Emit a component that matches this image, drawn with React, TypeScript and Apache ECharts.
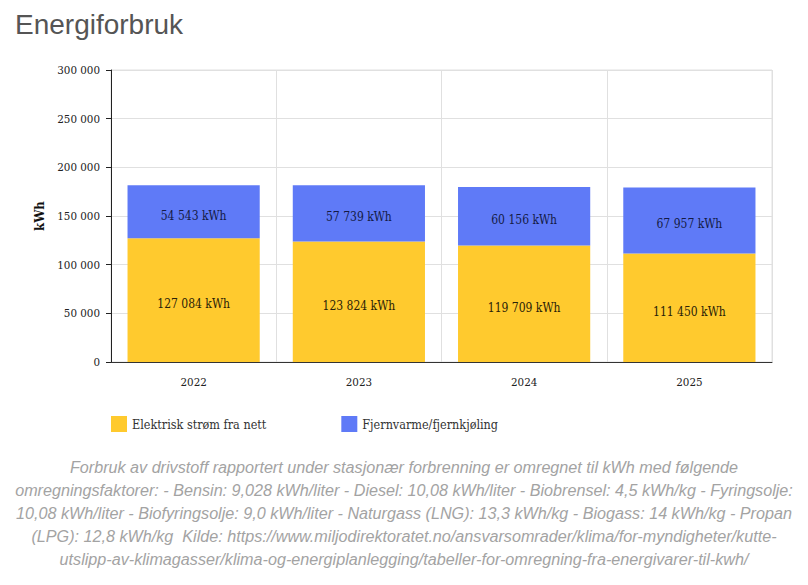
import React, { useEffect, useRef } from "react";
import * as echarts from "echarts";

const years = ["2022", "2023", "2024", "2025"];
const elektrisk = [127084, 123824, 119709, 111450];
const fjernvarme = [54543, 57739, 60156, 67957];
const seriesNames = ["Elektrisk strøm fra nett", "Fjernvarme/fjernkjøling"];
const footnoteLines = [
  "Forbruk av drivstoff rapportert under stasjonær forbrenning er omregnet til kWh med følgende",
  "omregningsfaktorer: - Bensin: 9,028 kWh/liter - Diesel: 10,08 kWh/liter - Biobrensel: 4,5 kWh/kg - Fyringsolje:",
  "10,08 kWh/liter - Biofyringsolje: 9,0 kWh/liter - Naturgass (LNG): 13,3 kWh/kg - Biogass: 14 kWh/kg - Propan",
  "(LPG): 12,8 kWh/kg  Kilde: https://www.miljodirektoratet.no/ansvarsomrader/klima/for-myndigheter/kutte-",
  "utslipp-av-klimagasser/klima-og-energiplanlegging/tabeller-for-omregning-fra-energivarer-til-kwh/",
];

const SERIF = "'DejaVu Serif Condensed', 'DejaVu Serif', serif";
const SANS = "'Liberation Sans', Arial, sans-serif";

const fmt = (v: number) =>
  String(Math.round(v)).replace(/\B(?=(\d{3})+(?!\d))/g, " ");

export default function App() {
  const ref = useRef<HTMLDivElement>(null);

  useEffect(() => {
    if (!ref.current) return;
    const chart = echarts.init(ref.current, undefined, { renderer: "svg" });

    const footnote = footnoteLines.map((line, i) => ({
      type: "text",
      x: 404,
      y: 467.5 + i * 23,
      scaleX: 1.01,
      style: {
        text: line,
        fill: "#a3a3a3",
        font: `italic 16px ${SANS}`,
        align: "center",
        verticalAlign: "middle",
      },
    }));

    const barLabel = (color: string) => ({
      show: true,
      position: "inside",
      offset: [0, 4],
      fontFamily: SERIF,
      fontSize: 12,
      color,
      formatter: (p: any) => `${fmt(p.value)} kWh`,
    });

    chart.setOption({
      animation: false,
      backgroundColor: "#ffffff",
      title: {
        text: "Energiforbruk",
        left: 10,
        top: 5,
        textStyle: {
          fontFamily: SANS,
          fontSize: 28,
          fontWeight: "normal",
          color: "#555555",
        },
      },
      legend: {
        left: 106,
        top: 411,
        itemWidth: 16,
        itemHeight: 16,
        itemGap: 75,
        icon: "rect",
        data: seriesNames,
        textStyle: {
          fontFamily: SERIF,
          fontSize: 12.5,
          color: "#333333",
        },
      },
      grid: {
        left: 111,
        right: 36,
        top: 70,
        bottom: 223,
        show: true,
        borderColor: "#e0e0e0",
        borderWidth: 1,
      },
      xAxis: {
        type: "category",
        data: years,
        axisLine: { lineStyle: { color: "#333333" } },
        axisTick: { alignWithLabel: true, length: 5, lineStyle: { color: "#999999" } },
        splitLine: { show: true, lineStyle: { color: "#e0e0e0" } },
        axisLabel: {
          fontFamily: SERIF,
          fontSize: 11.5,
          color: "#222222",
          margin: 14,
        },
      },
      yAxis: {
        type: "value",
        min: 0,
        max: 300000,
        interval: 50000,
        name: "kWh",
        nameLocation: "middle",
        nameRotate: 90,
        nameGap: 63,
        nameTextStyle: {
          fontFamily: SERIF,
          fontSize: 13,
          fontWeight: "bold",
          color: "#111111",
        },
        axisLine: { show: true, lineStyle: { color: "#222222" } },
        axisTick: { show: true, length: 5, lineStyle: { color: "#222222" } },
        splitLine: { show: true, lineStyle: { color: "#e0e0e0" } },
        axisLabel: {
          fontFamily: SERIF,
          fontSize: 11.5,
          color: "#222222",
          margin: 11,
          formatter: (v: number) => fmt(v),
        },
      },
      series: [
        {
          name: seriesNames[0],
          type: "bar",
          stack: "total",
          data: elektrisk,
          barCategoryGap: "20%",
          itemStyle: { color: "#FFCA2E" },
          label: barLabel("#2a2208"),
        },
        {
          name: seriesNames[1],
          type: "bar",
          stack: "total",
          data: fjernvarme,
          barCategoryGap: "20%",
          itemStyle: { color: "#5F7AF7" },
          label: barLabel("#141a45"),
        },
      ],
      graphic: footnote,
    });

    return () => chart.dispose();
  }, []);

  return <div ref={ref} style={{ width: 808, height: 585, margin: -8 }} />;
}
